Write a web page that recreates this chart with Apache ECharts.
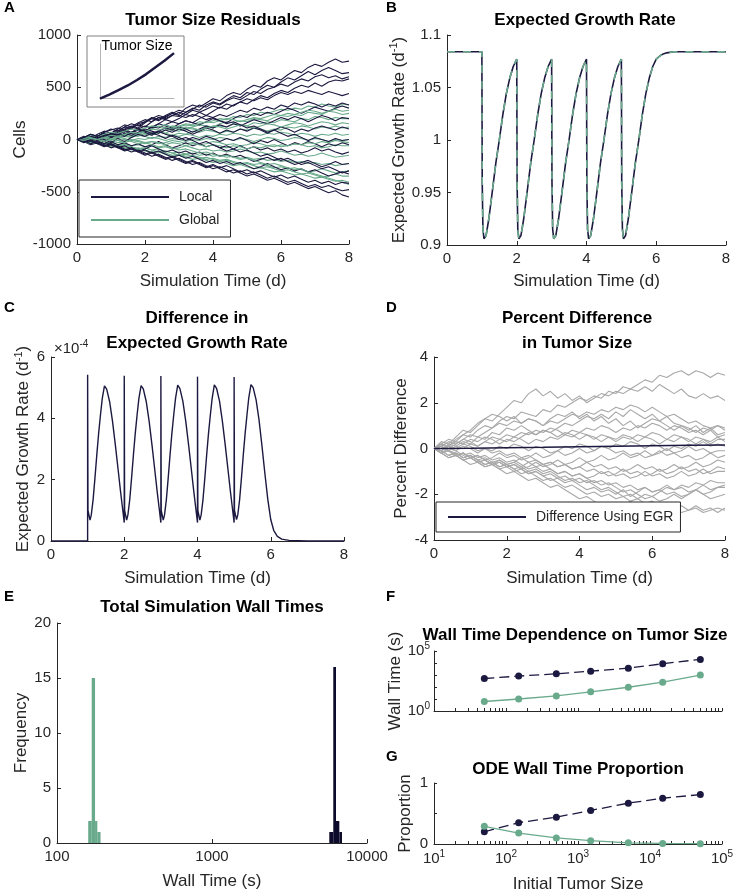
<!DOCTYPE html>
<html><head><meta charset="utf-8">
<script src="https://cdn.jsdelivr.net/npm/echarts@6/dist/echarts.min.js"></script>
<style>html,body{margin:0;padding:0;background:#fff}#c{width:736px;height:894px}</style>
</head><body><div id="c"></div>
<script>
// ---------------- DATA ----------------
const simTime = [0,0.2,0.4,0.6,0.8,1,1.2,1.4,1.6,1.8,2,2.2,2.4,2.6,2.8,3,3.2,3.4,3.6,3.8,4,4.2,4.4,4.6,4.8,5,5.2,5.4,5.6,5.8,6,6.2,6.4,6.6,6.8,7,7.2,7.4,7.6,7.8,8];

// Panel A: tumor size residuals (cells), local model runs
const localRuns = [
[0,20,-10,30,60,40,80,120,100,150,170,210,190,230,260,240,300,330,310,350,390,370,420,450,430,480,520,500,560,590,570,620,660,640,690,720,700,740,770,740,750],
[0,-20,10,40,20,60,90,70,110,140,120,170,210,190,230,220,260,300,280,330,360,340,380,420,400,450,430,480,520,500,550,590,570,610,650,620,660,690,660,630,640],
[0,10,40,20,50,30,70,100,130,110,160,200,230,210,250,280,260,290,330,310,350,330,370,400,380,420,460,440,480,500,530,510,550,580,560,600,620,590,610,580,600],
[0,-10,20,0,30,60,40,80,60,100,130,110,150,190,170,200,240,220,260,230,270,310,290,330,360,340,380,420,400,440,470,450,490,520,500,540,510,550,570,560,580],
[0,30,10,50,80,60,100,140,120,160,190,170,210,200,230,260,240,280,260,290,320,300,340,320,360,390,370,400,380,420,450,430,460,440,470,450,430,460,440,420,440],
[0,-10,30,10,-20,20,50,30,70,100,80,120,110,140,170,150,180,160,200,230,210,240,220,250,280,260,300,280,310,290,330,310,350,330,360,340,310,340,320,350,330],
[0,20,40,10,50,30,60,90,70,100,80,120,150,130,110,150,180,160,140,170,200,180,160,200,230,210,250,230,260,240,270,300,280,250,280,310,290,270,300,320,300],
[0,10,-20,10,40,20,50,80,60,90,70,40,80,110,90,120,100,70,100,130,110,140,120,150,130,160,190,170,150,180,210,190,220,200,170,200,230,210,180,210,200],
[0,-20,10,-10,20,50,30,60,40,70,100,80,60,90,70,100,80,50,80,110,90,60,90,70,100,80,110,90,60,90,120,100,70,100,80,110,130,110,90,120,100],
[0,20,-10,20,0,-30,10,-20,20,50,30,60,40,10,40,20,-10,20,0,30,10,-20,10,-10,20,-10,-40,-10,-30,0,-30,-60,-30,-50,-20,-40,-70,-40,-60,-30,-50],
[0,-10,20,-10,-40,-20,-50,-30,-60,-40,-70,-50,-20,-50,-80,-60,-30,-60,-40,-70,-50,-80,-110,-90,-60,-90,-70,-100,-80,-110,-90,-120,-100,-130,-110,-80,-110,-90,-120,-140,-120],
[0,-20,-50,-30,-60,-40,-70,-100,-80,-110,-90,-60,-90,-120,-100,-130,-110,-140,-120,-150,-130,-160,-140,-170,-150,-180,-210,-190,-170,-200,-180,-210,-240,-220,-200,-230,-260,-240,-210,-240,-230],
[0,10,-20,-40,-20,-50,-80,-60,-90,-120,-100,-130,-110,-140,-170,-150,-180,-160,-190,-220,-200,-230,-210,-240,-220,-250,-280,-260,-230,-260,-290,-270,-300,-280,-310,-290,-320,-350,-330,-310,-330],
[0,-20,0,-30,-60,-40,-70,-100,-80,-110,-140,-120,-150,-180,-160,-190,-220,-200,-230,-260,-240,-270,-250,-280,-310,-290,-320,-300,-330,-360,-340,-370,-350,-380,-410,-390,-420,-400,-430,-410,-420],
[0,-10,-40,-20,-50,-80,-60,-90,-120,-100,-130,-160,-140,-170,-200,-180,-210,-240,-220,-250,-280,-260,-290,-320,-300,-330,-310,-340,-370,-350,-380,-410,-390,-420,-450,-430,-460,-440,-470,-490,-480],
[0,-30,-10,-40,-70,-50,-80,-110,-90,-120,-150,-130,-160,-190,-170,-200,-230,-210,-240,-270,-250,-280,-310,-290,-320,-350,-330,-360,-390,-370,-400,-430,-410,-440,-470,-450,-480,-510,-490,-530,-550],
[0,20,50,30,70,100,80,120,150,130,170,200,180,220,250,230,210,240,220,190,210,180,150,170,140,110,130,100,70,90,60,30,50,20,-10,20,0,-20,10,-10,0],
[0,20,50,30,70,90,110,90,120,100,80,60,80,50,30,0,20,-10,-40,-20,-50,-80,-60,-90,-120,-100,-130,-160,-140,-170,-200,-180,-210,-240,-220,-250,-280,-260,-290,-320,-300]
];
// Panel A: global model runs
const globalRuns = [
[0,10,-10,20,40,30,50,40,70,90,80,100,130,110,100,130,150,140,170,160,180,200,190,220,210,240,230,260,250,270,290,280,300,290,320,310,340,320,310,340,330],
[0,-10,10,30,20,0,20,40,60,50,80,70,60,90,110,100,90,120,140,130,120,150,170,160,180,170,200,190,180,210,230,220,240,230,260,250,240,270,260,240,250],
[0,20,10,-10,10,30,20,40,30,60,50,40,70,60,90,80,110,100,90,120,110,130,120,150,140,130,160,150,170,160,190,180,170,200,190,220,210,190,210,200,200],
[0,-20,0,20,10,30,20,50,40,30,60,50,70,60,40,60,50,80,70,90,80,60,80,70,100,90,110,100,80,100,90,120,110,130,120,100,120,110,130,110,120],
[0,10,30,20,0,20,10,30,20,40,30,10,30,20,40,30,50,40,20,40,30,50,40,60,50,30,50,40,60,50,70,60,40,60,50,30,50,40,60,40,50],
[0,-10,10,0,-20,0,20,10,-10,10,0,20,10,-10,10,0,-20,0,-10,10,0,20,10,-10,10,0,-20,0,20,10,-10,0,20,10,-10,10,0,-20,0,-10,0],
[0,10,-10,-20,0,-10,-30,-20,0,-10,-30,-20,-40,-30,-10,-20,-40,-30,-50,-40,-20,-30,-50,-40,-60,-50,-30,-40,-60,-50,-70,-60,-40,-50,-70,-60,-80,-70,-50,-60,-60],
[0,-10,-30,-20,-40,-30,-50,-40,-60,-50,-70,-60,-80,-70,-90,-80,-60,-80,-100,-90,-110,-100,-120,-110,-90,-110,-130,-120,-140,-130,-110,-130,-150,-140,-160,-150,-130,-150,-170,-160,-150],
[0,-20,-10,-30,-50,-40,-60,-50,-70,-90,-80,-100,-90,-110,-130,-120,-140,-130,-150,-140,-160,-150,-170,-160,-180,-170,-190,-180,-200,-190,-210,-200,-220,-210,-230,-220,-240,-230,-250,-240,-230],
[0,-10,-30,-20,-40,-60,-50,-70,-90,-80,-100,-120,-110,-130,-150,-140,-160,-150,-170,-190,-180,-200,-190,-210,-230,-220,-240,-230,-250,-270,-260,-280,-270,-290,-310,-300,-280,-300,-320,-310,-300],
[0,10,-10,-30,-20,-40,-60,-50,-70,-90,-80,-100,-120,-110,-130,-150,-140,-160,-180,-170,-190,-210,-200,-220,-240,-230,-250,-270,-260,-280,-300,-290,-310,-330,-320,-340,-360,-350,-330,-350,-350],
[0,-20,-40,-30,-50,-70,-60,-80,-100,-90,-110,-130,-120,-140,-160,-150,-170,-190,-180,-200,-220,-210,-230,-250,-240,-260,-280,-270,-290,-310,-300,-320,-340,-330,-350,-370,-360,-380,-400,-390,-410],
[0,-10,10,0,20,10,-10,0,-20,-40,-30,-50,-70,-60,-80,-100,-90,-110,-130,-120,-140,-160,-150,-170,-190,-180,-200,-220,-240,-230,-250,-270,-290,-280,-310,-330,-350,-370,-390,-410,-430],
[0,20,40,30,50,70,60,80,100,90,110,130,120,140,120,100,120,110,90,110,130,120,100,120,140,130,110,130,150,140,120,140,160,150,130,150,170,160,140,160,150],
[0,-10,10,0,20,40,30,50,70,60,80,100,90,110,130,120,140,130,150,170,160,180,200,190,170,190,210,200,220,240,230,250,240,260,280,270,250,270,290,270,280],
[0,10,20,0,-20,0,-10,-30,-10,-20,-40,-20,-30,-50,-30,-40,-60,-40,-50,-70,-50,-60,-80,-60,-70,-90,-70,-80,-60,-70,-50,-60,-40,-50,-30,-40,-20,-30,-10,-20,-30]
];
// Panel A inset: tumor size (normalised)
const insetTime = [0,1,2,3,4,5,6,7,8];
const insetSize = [0,0.09,0.19,0.29,0.41,0.54,0.69,0.84,1.0];

// Panel B: expected growth rate [time, rate]
const egrCurve = [[0,1.084],[1,1.084],
[1.01,0.96],[1.03,0.915],[1.06,0.906],[1.12,0.909],[1.2,0.925],[1.3,0.951],[1.4,0.978],[1.5,1.0],[1.6,1.024],[1.7,1.044],[1.8,1.059],[1.9,1.07],[2,1.077],
[2.01,0.96],[2.03,0.915],[2.06,0.906],[2.12,0.909],[2.2,0.925],[2.3,0.951],[2.4,0.978],[2.5,1.0],[2.6,1.024],[2.7,1.044],[2.8,1.059],[2.9,1.07],[3,1.077],
[3.01,0.96],[3.03,0.915],[3.06,0.906],[3.12,0.909],[3.2,0.925],[3.3,0.951],[3.4,0.978],[3.5,1.0],[3.6,1.024],[3.7,1.044],[3.8,1.059],[3.9,1.07],[4,1.077],
[4.01,0.96],[4.03,0.915],[4.06,0.906],[4.12,0.909],[4.2,0.925],[4.3,0.951],[4.4,0.978],[4.5,1.0],[4.6,1.024],[4.7,1.044],[4.8,1.059],[4.9,1.07],[5,1.077],
[5.01,0.96],[5.03,0.915],[5.06,0.906],[5.12,0.909],[5.2,0.925],[5.3,0.951],[5.4,0.978],[5.5,1.0],[5.6,1.024],[5.7,1.044],[5.8,1.059],[5.9,1.07],[6,1.077],
[6.1,1.08],[6.2,1.082],[6.3,1.083],[6.5,1.084],[8,1.084]];

// Panel C: difference in expected growth rate (x1e-4) [time, value]
const egrDiff = [[0,0],[1,0],[1,5.42],[1.01,1.0],[1.065,0.68],[1.1,0.85],[1.15,1.35],[1.2,2.05],[1.25,2.8],[1.3,3.5],[1.35,4.1],[1.4,4.65],[1.46,5.06],[1.52,4.95],[1.6,4.55],[1.68,3.9],[1.76,3.1],[1.84,2.25],[1.9,1.6],[1.95,1.1],[2,0.6],
[2,5.39],[2.01,1.0],[2.065,0.68],[2.1,0.85],[2.15,1.35],[2.2,2.05],[2.25,2.8],[2.3,3.5],[2.35,4.1],[2.4,4.65],[2.46,5.07],[2.52,4.96],[2.6,4.55],[2.68,3.9],[2.76,3.1],[2.84,2.25],[2.9,1.6],[2.95,1.1],[3,0.6],
[3,5.38],[3.01,1.0],[3.065,0.68],[3.1,0.85],[3.15,1.35],[3.2,2.05],[3.25,2.8],[3.3,3.5],[3.35,4.1],[3.4,4.65],[3.46,5.08],[3.52,4.97],[3.6,4.56],[3.68,3.9],[3.76,3.1],[3.84,2.25],[3.9,1.6],[3.95,1.1],[4,0.6],
[4,5.36],[4.01,1.0],[4.065,0.68],[4.1,0.85],[4.15,1.35],[4.2,2.05],[4.25,2.8],[4.3,3.5],[4.35,4.1],[4.4,4.65],[4.46,5.09],[4.52,4.98],[4.6,4.57],[4.68,3.9],[4.76,3.1],[4.84,2.25],[4.9,1.6],[4.95,1.1],[5,0.6],
[5,5.35],[5.01,1.0],[5.065,0.7],[5.1,0.85],[5.15,1.35],[5.2,2.05],[5.25,2.8],[5.3,3.5],[5.35,4.1],[5.4,4.67],[5.46,5.1],[5.52,5.0],[5.6,4.6],[5.68,3.95],[5.76,3.1],[5.84,2.2],[5.92,1.35],[6,0.7],[6.08,0.35],[6.18,0.15],[6.3,0.06],[6.5,0.02],[7,0],[8,0]];

// Panel D: percent difference in tumor size, simulations
const pctDiffRuns = [
[0,0.2,0.1,0.4,0.6,0.5,0.8,1.0,0.9,1.2,1.4,1.3,1.6,1.5,1.4,1.7,1.6,1.9,1.8,2.0,2.2,2.1,2.3,2.2,2.5,2.4,2.7,2.6,2.8,3.0,2.9,3.2,3.1,3.3,3.4,3.2,3.4,3.3,3.1,3.3,3.2],
[0,0.3,0.2,0.5,0.8,0.7,1.0,1.3,1.2,1.5,1.8,2.1,2.0,2.4,2.6,2.3,2.5,2.2,2.4,2.1,2.3,2.0,2.2,2.4,2.3,2.5,2.4,2.6,2.5,2.7,2.5,2.8,2.6,2.4,2.6,2.3,2.2,2.4,2.2,2.3,2.1],
[0,0.2,0.4,0.3,0.6,0.8,1.1,1.3,1.5,1.4,1.2,1.4,1.1,1.3,1.2,1.0,1.3,1.5,1.4,1.6,1.3,1.5,1.2,1.4,1.1,1.3,1.0,1.2,0.9,1.1,1.3,1.2,1.0,0.8,1.0,0.9,0.7,0.9,0.8,1.0,0.9],
[0,-0.1,0.2,0.1,0.3,0.2,0.5,0.4,0.7,0.6,0.9,0.8,1.0,0.8,0.6,0.8,0.7,0.9,1.1,1.0,1.2,1.4,1.3,1.5,1.3,1.6,1.4,1.7,1.5,1.3,1.5,1.2,1.4,1.1,1.0,0.8,1.0,0.7,0.9,0.6,0.7],
[0,0.1,-0.1,0.1,0.0,0.2,0.1,0.3,0.5,0.4,0.6,0.5,0.7,0.6,0.8,0.7,0.9,0.8,0.6,0.8,0.7,0.9,0.8,1.0,0.9,0.7,0.9,0.8,1.0,0.9,1.1,1.0,0.8,1.0,0.9,0.7,0.8,0.6,0.8,0.5,0.6],
[0,0.2,0.0,0.2,0.4,0.3,0.1,0.3,0.2,0.4,0.3,0.5,0.4,0.2,0.4,0.3,0.5,0.4,0.6,0.5,0.7,0.6,0.4,0.6,0.5,0.3,0.5,0.4,0.6,0.5,0.7,0.6,0.4,0.6,0.5,0.3,0.5,0.4,0.2,0.4,0.4],
[0,-0.2,0.0,-0.1,0.1,0.0,-0.2,0.0,-0.1,0.1,0.0,0.2,0.1,-0.1,0.1,0.0,-0.2,-0.1,0.1,0.0,0.2,0.1,-0.1,0.1,0.0,0.2,0.1,0.3,0.2,0.0,0.2,0.1,-0.1,0.1,0.0,0.2,0.1,0.3,0.1,0.2,0.1],
[0,0.1,-0.1,-0.3,-0.2,-0.4,-0.3,-0.5,-0.4,-0.2,-0.4,-0.3,-0.5,-0.4,-0.2,-0.4,-0.3,-0.1,-0.3,-0.2,0.0,-0.2,-0.1,0.1,0.0,-0.2,-0.1,-0.3,-0.2,-0.4,-0.3,-0.1,-0.3,-0.2,-0.4,-0.3,-0.5,-0.4,-0.2,-0.4,-0.3],
[0,-0.2,-0.4,-0.3,-0.5,-0.7,-0.6,-0.8,-0.7,-0.5,-0.7,-0.6,-0.4,-0.6,-0.5,-0.7,-0.6,-0.8,-0.7,-0.9,-0.8,-0.6,-0.8,-0.7,-0.9,-0.8,-1.0,-0.9,-0.7,-0.9,-0.8,-1.0,-0.9,-0.7,-0.9,-0.8,-0.6,-0.8,-0.7,-0.5,-0.6],
[0,-0.1,-0.3,-0.2,-0.4,-0.3,-0.5,-0.7,-0.6,-0.8,-0.7,-0.9,-0.8,-0.6,-0.8,-0.7,-0.9,-1.1,-1.0,-1.2,-1.1,-1.3,-1.2,-1.0,-1.2,-1.1,-0.9,-1.1,-1.0,-1.2,-1.1,-0.9,-1.1,-1.0,-0.8,-1.0,-0.9,-1.1,-1.0,-0.8,-0.9],
[0,0.1,-0.1,-0.3,-0.2,-0.4,-0.6,-0.5,-0.7,-0.6,-0.8,-1.0,-0.9,-1.1,-1.0,-1.2,-1.4,-1.3,-1.5,-1.4,-1.6,-1.8,-1.7,-1.9,-1.8,-2.0,-1.8,-2.1,-1.9,-1.7,-1.9,-1.8,-1.6,-1.8,-1.7,-1.9,-1.8,-1.6,-1.8,-1.7,-1.6],
[0,-0.2,-0.1,-0.3,-0.5,-0.4,-0.6,-0.5,-0.7,-0.9,-0.8,-0.7,-0.9,-1.1,-1.0,-1.2,-1.1,-1.3,-1.2,-1.4,-1.3,-1.5,-1.4,-1.6,-1.5,-1.7,-1.9,-1.8,-2.0,-2.2,-2.1,-2.3,-2.2,-2.0,-2.2,-2.0,-1.8,-2.0,-1.9,-1.7,-1.7],
[0,-0.1,0.1,-0.1,-0.3,-0.2,-0.4,-0.3,-0.5,-0.4,-0.6,-0.5,-0.7,-0.9,-0.8,-1.0,-0.9,-1.1,-1.0,-1.2,-1.1,-1.3,-1.5,-1.4,-1.6,-1.5,-1.7,-1.6,-1.8,-1.7,-1.9,-1.8,-2.0,-1.9,-2.1,-2.0,-1.8,-2.0,-2.2,-2.1,-2.0],
[0,-0.2,-0.4,-0.3,-0.5,-0.4,-0.6,-0.8,-0.7,-0.9,-1.1,-1.0,-1.2,-1.4,-1.3,-1.5,-1.7,-1.6,-1.8,-2.0,-2.2,-2.1,-2.3,-2.5,-2.4,-2.6,-2.5,-2.3,-2.5,-2.4,-2.6,-2.5,-2.7,-2.6,-2.8,-2.7,-2.5,-2.7,-2.6,-2.8,-2.6],
[0,0.1,-0.1,-0.2,-0.4,-0.3,-0.5,-0.4,-0.6,-0.5,-0.7,-0.6,-0.8,-1.0,-0.9,-1.1,-1.0,-1.2,-1.4,-1.3,-1.5,-1.4,-1.6,-1.8,-1.7,-1.9,-2.1,-2.0,-2.2,-2.4,-2.3,-2.5,-2.4,-2.6,-2.5,-2.7,-2.6,-2.8,-2.7,-2.6,-2.7],
[0,0.1,0.3,0.2,0.4,0.6,0.5,0.7,0.9,1.1,1.0,1.2,1.1,1.3,1.2,1.0,1.2,1.1,1.3,1.5,1.4,1.6,1.5,1.7,1.6,1.8,1.7,1.9,1.8,1.6,1.8,1.6,1.4,1.5,1.3,1.1,1.2,1.0,0.9,1.0,0.8],
[0,-0.2,-0.1,-0.3,-0.2,-0.4,-0.3,-0.5,-0.7,-0.6,-0.8,-0.7,-0.9,-0.8,-0.6,-0.8,-0.7,-0.5,-0.7,-0.6,-0.4,-0.6,-0.5,-0.3,-0.5,-0.4,-0.2,-0.4,-0.3,-0.1,-0.3,-0.2,0.0,-0.2,-0.1,0.1,-0.1,0.0,-0.2,-0.1,-0.1],
[0,-0.1,-0.3,-0.2,-0.4,-0.3,-0.5,-0.7,-0.6,-0.8,-0.7,-0.9,-1.1,-1.0,-1.2,-1.4,-1.3,-1.5,-1.7,-1.6,-1.8,-2.0,-1.9,-2.1,-2.0,-2.2,-2.1,-2.3,-2.2,-2.0,-2.1,-1.9,-1.7,-1.8,-1.6,-1.7,-1.5,-1.6,-1.4,-1.5,-1.5],
[0,0.2,0.1,0.3,0.2,0.4,0.3,0.5,0.4,0.2,0.4,0.3,0.5,0.7,0.6,0.8,0.7,0.5,0.7,0.6,0.4,0.6,0.5,0.3,0.5,0.4,0.6,0.5,0.3,0.5,0.4,0.2,0.4,0.3,0.5,0.4,0.2,0.4,0.3,0.5,0.3],
[0,-0.1,0.1,0.0,0.2,0.1,-0.1,0.0,-0.2,-0.1,-0.3,-0.2,-0.4,-0.3,-0.5,-0.7,-0.6,-0.8,-0.7,-0.9,-0.8,-1.0,-0.9,-1.1,-1.0,-1.2,-1.1,-1.3,-1.2,-1.0,-1.2,-1.1,-1.3,-1.2,-1.0,-1.2,-1.1,-0.9,-1.1,-1.0,-1.0]
];
// Panel D: difference using EGR [time, %]
const egrPctDiff = [[0,0],[1,0.01],[2,0.03],[3,0.05],[4,0.08],[5,0.1],[6,0.12],[7,0.14],[8,0.15]];

// Panel E: histogram bins [lowEdge, highEdge, count]
const wallBinsGlobal = [[159,167.5,2],[167.5,176,15],[176,182,2],[182,191,1]];
const wallBinsLocal = [[5710,6060,1],[6060,6310,16],[6310,6630,2],[6630,6900,1]];

// Panels F & G
const initialSize = [50,150,500,1500,5000,15000,50000];
const wallLocal = [510,810,1260,2100,3700,8700,20000];
const wallGlobal = [6.2,10,18,40,95,250,980];
const odeLocal = [0.2,0.35,0.44,0.55,0.67,0.75,0.81];
const odeGlobal = [0.29,0.18,0.10,0.055,0.02,0.01,0.005];
const logMinorTicks = [10,20,30,40,50,60,70,80,90,100,200,300,400,500,600,700,800,900,1000,2000,3000,4000,5000,6000,7000,8000,9000,10000,20000,30000,40000,50000,60000,70000,80000,90000,100000];

// ---------------- STYLE ----------------
const FONT = "'Liberation Sans', Arial, Helvetica, sans-serif";
const AX = '#262626';
const NAVY = '#1c1940';
const NAVY_BAR = '#0d0b2c';
const GREEN = '#6aaa8c';
const GREY = '#a8a8a8';

function mergeDeep(a, b) {
  const o = Object.assign({}, a);
  for (const k in b) {
    const bv = b[k];
    if (bv && typeof bv === 'object' && !Array.isArray(bv) && a && a[k] && typeof a[k] === 'object' && !Array.isArray(a[k])) o[k] = mergeDeep(a[k], bv);
    else o[k] = bv;
  }
  return o;
}
const axisBase = {
  nameLocation: 'middle',
  nameTextStyle: {color: AX, fontSize: 17, fontFamily: FONT},
  axisLine: {show: true, onZero: false, lineStyle: {color: AX, width: 1}},
  axisTick: {show: true, inside: true, length: 4, lineStyle: {color: AX, width: 1}},
  axisLabel: {show: true, color: AX, fontSize: 15, fontFamily: FONT, margin: 6, formatter: v => String(v)},
  splitLine: {show: false},
  minorTick: {show: false}
};
const ax = e => mergeDeep(axisBase, e);
const supRich = {
  n: {fontSize: 17, fontFamily: FONT, color: AX},
  s: {fontSize: 11, fontFamily: FONT, color: AX, padding: [0, 0, 10, 0]}
};
const tickRich = {
  b: {fontSize: 15, fontFamily: FONT, color: AX},
  s: {fontSize: 10, fontFamily: FONT, color: AX, padding: [0, 0, 9, 0]}
};
const expLabel = v => '{b|10}{s|' + Math.round(Math.log10(v)) + '}';

const grids = [
  {left: 77, top: 35, width: 272, height: 209},
  {left: 447, top: 35, width: 279, height: 210},
  {left: 51, top: 357, width: 293, height: 184},
  {left: 434, top: 357, width: 291, height: 183},
  {left: 57, top: 623, width: 310, height: 220},
  {left: 434, top: 651, width: 288, height: 60},
  {left: 434, top: 783, width: 288, height: 61},
  {left: 100, top: 44, width: 74, height: 54.7}
].map(g => Object.assign({outerBoundsMode: 'none', containLabel: false}, g));

const timeAxis = (gi, gap) => ax({gridIndex: gi, type: 'value', min: 0, max: 8, interval: 2, name: 'Simulation Time (d)', nameGap: gap});

const xAxes = [
  timeAxis(0, 29), timeAxis(1, 28), timeAxis(2, 29), timeAxis(3, 30),
  ax({gridIndex: 4, type: 'log', logBase: 10, min: 100, max: 10000, name: 'Wall Time (s)', nameGap: 30,
      axisLabel: {formatter: v => String(Math.round(v))}}),
  ax({gridIndex: 5, type: 'log', logBase: 10, min: 10, max: 100000,
      axisLabel: {show: false}, axisTick: {length: 3, customValues: logMinorTicks}}),
  ax({gridIndex: 6, type: 'log', logBase: 10, min: 10, max: 100000, name: 'Initial Tumor Size', nameGap: 32,
      axisTick: {length: 3, customValues: logMinorTicks},
      axisLabel: {formatter: expLabel, rich: tickRich, margin: 5}}),
  {gridIndex: 7, type: 'value', min: 0, max: 8, axisLine: {show: true, lineStyle: {color: '#b5b5b5'}},
   axisTick: {show: false}, axisLabel: {show: false}, splitLine: {show: false}}
];
const yAxes = [
  ax({gridIndex: 0, type: 'value', min: -1000, max: 1000, interval: 500, name: 'Cells', nameGap: 48, nameRotate: 90}),
  ax({gridIndex: 1, type: 'value', min: 0.9, max: 1.1, interval: 0.05, nameGap: 37, nameRotate: 90,
      name: '{n|Expected Growth Rate (d}{s|-1}{n|)}', nameTextStyle: {rich: supRich}}),
  ax({gridIndex: 2, type: 'value', min: 0, max: 6, interval: 2, nameGap: 17, nameRotate: 90,
      name: '{n|Expected Growth Rate (d}{s|-1}{n|)}', nameTextStyle: {rich: supRich}}),
  ax({gridIndex: 3, type: 'value', min: -4, max: 4, interval: 2, name: 'Percent Difference', nameGap: 24, nameRotate: 90}),
  ax({gridIndex: 4, type: 'value', min: 0, max: 20, interval: 5, name: 'Frequency', nameGap: 27, nameRotate: 90}),
  ax({gridIndex: 5, type: 'log', logBase: 10, min: 1, max: 100000, name: 'Wall Time (s)', nameGap: 30, nameRotate: 90,
      axisTick: {length: 3},
      axisLabel: {rich: tickRich, margin: 4, formatter: v => { const e = Math.round(Math.log10(v)); return (e === 0 || e === 5) ? expLabel(v) : ''; }}}),
  ax({gridIndex: 6, type: 'value', min: 0, max: 1, interval: 0.5, name: 'Proportion', nameGap: 20, nameRotate: 90,
      axisTick: {length: 3},
      axisLabel: {formatter: v => (v === 0.5 ? '' : String(v))}}),
  {gridIndex: 7, type: 'value', min: 0, max: 1.2, axisLine: {show: true, lineStyle: {color: '#b5b5b5'}},
   axisTick: {show: false}, axisLabel: {show: false}, splitLine: {show: false}}
];

const series = [];
function runLine(name, arr, color, axisIdx, width) {
  return {type: 'line', name, xAxisIndex: axisIdx, yAxisIndex: axisIdx, symbol: 'none', silent: true,
    data: arr.map((v, i) => [simTime[i], v]), lineStyle: {color, width}, itemStyle: {color}};
}
for (let i = 0; i < Math.max(localRuns.length, globalRuns.length); i++) {
  if (localRuns[i]) series.push(runLine('Local', localRuns[i], NAVY, 0, 1.1));
  if (globalRuns[i]) series.push(runLine('Global', globalRuns[i], GREEN, 0, 1.1));
}
series.push({type: 'line', name: 'Tumor Size', xAxisIndex: 7, yAxisIndex: 7, symbol: 'none', silent: true,
  data: insetTime.map((t, i) => [t, insetSize[i]]), lineStyle: {color: NAVY, width: 2.5}});
series.push({type: 'line', name: 'EGR Local', xAxisIndex: 1, yAxisIndex: 1, symbol: 'none', silent: true,
  data: egrCurve, lineStyle: {color: NAVY, width: 1.6}});
series.push({type: 'line', name: 'EGR Global', xAxisIndex: 1, yAxisIndex: 1, symbol: 'none', silent: true,
  data: egrCurve, lineStyle: {color: GREEN, width: 1.6, type: [8, 8]}});
series.push({type: 'line', name: 'EGR Difference', xAxisIndex: 2, yAxisIndex: 2, symbol: 'none', silent: true,
  data: egrDiff, lineStyle: {color: NAVY, width: 1.4}});
pctDiffRuns.forEach(r => series.push(runLine('Simulation', r, GREY, 3, 1.1)));
series.push({type: 'line', name: 'Difference Using EGR', xAxisIndex: 3, yAxisIndex: 3, symbol: 'none', silent: true,
  data: egrPctDiff, lineStyle: {color: NAVY, width: 1.5}, itemStyle: {color: NAVY}});
function histBars(name, bins, color) {
  return {type: 'custom', name, xAxisIndex: 4, yAxisIndex: 4, data: bins, encode: {x: [0, 1], y: 2}, silent: true,
    renderItem: (params, api) => {
      const a = api.coord([api.value(0), api.value(2)]);
      const b = api.coord([api.value(1), 0]);
      return {type: 'rect', shape: {x: a[0], y: a[1], width: b[0] - a[0], height: b[1] - a[1]}, style: {fill: color}};
    }};
}
series.push(histBars('Global', wallBinsGlobal, GREEN));
series.push(histBars('Local', wallBinsLocal, NAVY_BAR));
function dotLine(name, ys, color, gi, dashed) {
  return {type: 'line', name, xAxisIndex: gi, yAxisIndex: gi, symbol: 'circle', symbolSize: 7, silent: true,
    data: initialSize.map((x, i) => [x, ys[i]]), itemStyle: {color},
    lineStyle: {color, width: 1.3, type: dashed ? [10, 5] : 'solid'}};
}
series.push(dotLine('Local', wallLocal, NAVY, 5, true));
series.push(dotLine('Global', wallGlobal, GREEN, 5, false));
series.push(dotLine('Local', odeLocal, NAVY, 6, true));
series.push(dotLine('Global', odeGlobal, GREEN, 6, false));

function txt(x, y, text, size, bold, align, extra) {
  return Object.assign({type: 'text', x, y, z: 10, style: {text, fill: '#000', fontSize: size, fontWeight: bold ? 'bold' : 'normal',
    fontFamily: FONT, align: align || 'center', verticalAlign: 'middle'}}, extra || {});
}
const graphics = [
  {type: 'rect', z: 0, shape: {x: 87, y: 36, width: 97, height: 71}, style: {fill: '#fff', stroke: '#808080', lineWidth: 1}},
  txt(137, 46, 'Tumor Size', 14, false, 'center'),
  txt(4, 8, 'A', 15, true, 'left'), txt(386, 8, 'B', 15, true, 'left'),
  txt(4, 308, 'C', 15, true, 'left'), txt(386, 308, 'D', 15, true, 'left'),
  txt(4, 597, 'E', 15, true, 'left'), txt(386, 597, 'F', 15, true, 'left'),
  txt(386, 757, 'G', 15, true, 'left'),
  txt(213, 20, 'Tumor Size Residuals', 17, true),
  txt(585, 20, 'Expected Growth Rate', 17, true),
  txt(197, 318, 'Difference in', 17, true),
  txt(197, 343, 'Expected Growth Rate', 17, true),
  txt(577, 318, 'Percent Difference', 17, true),
  txt(577, 343, 'in Tumor Size', 17, true),
  txt(212, 607, 'Total Simulation Wall Times', 17, true),
  txt(575, 635, 'Wall Time Dependence on Tumor Size', 17, true),
  txt(578, 769, 'ODE Wall Time Proportion', 17, true),
  {type: 'text', x: 54, y: 349, z: 10, style: {text: '{a|×10}{s|-4}', align: 'left', verticalAlign: 'middle',
    rich: {a: {fontSize: 15, fontFamily: FONT, fill: AX, color: AX}, s: {fontSize: 10, fontFamily: FONT, fill: AX, color: AX, padding: [0, 0, 9, 0]}}}}
];

const legendText = {fontSize: 14, color: AX, fontFamily: FONT, padding: [0, 0, 0, 5]};
const option = {
  animation: false,
  textStyle: {fontFamily: FONT},
  grid: grids,
  xAxis: xAxes,
  yAxis: yAxes,
  legend: [
    {left: 79, top: 180, orient: 'vertical', data: ['Local', 'Global'], itemWidth: 78, itemHeight: 14, itemGap: 9,
     padding: [10, 11, 10, 11], borderColor: AX, borderWidth: 1, backgroundColor: '#fff', selectedMode: false,
     itemStyle: {opacity: 0}, textStyle: legendText},
    {left: 436, top: 502, orient: 'vertical', data: ['Difference Using EGR'], itemWidth: 78, itemHeight: 14,
     padding: [8, 7, 8, 11], borderColor: AX, borderWidth: 1, backgroundColor: '#fff', selectedMode: false,
     itemStyle: {opacity: 0}, textStyle: legendText}
  ],
  graphic: {elements: graphics},
  series
};
const chart = echarts.init(document.getElementById('c'), null, {renderer: 'canvas'});
chart.setOption(option);
</script></body></html>
